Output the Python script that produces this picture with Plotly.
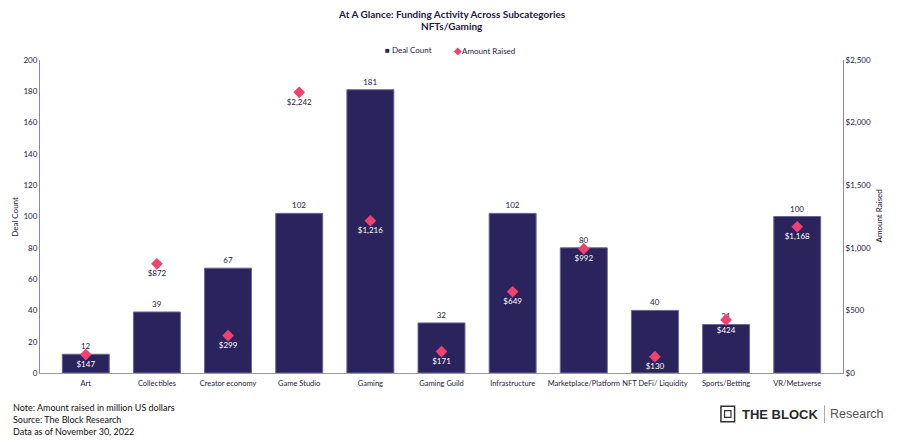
import plotly.graph_objects as go

categories = ["Art", "Collectibles", "Creator economy", "Game Studio", "Gaming",
              "Gaming Guild", "Infrastructure", "Marketplace/Platform",
              "NFT DeFi/ Liquidity", "Sports/Betting", "VR/Metaverse"]
deal_count = [12, 39, 67, 102, 181, 32, 102, 80, 40, 31, 100]
amount_raised = [147, 872, 299, 2242, 1216, 171, 649, 992, 130, 424, 1168]

left_ticks = [0, 20, 40, 60, 80, 100, 120, 140, 160, 180, 200]
right_ticks = [0, 500, 1000, 1500, 2000, 2500]
right_labels = ["$0", "$500", "$1,000", "$1,500", "$2,000", "$2,500"]

bar_color = "#2b235c"
dot_color = "#ef4270"
ink = "#1e1a3c"
font_name = "Lato"

# amount label sits under the marker: white when it lands inside the bar
amount_text = ["${:,}".format(v) for v in amount_raised]
label_colors = []
for d, a in zip(deal_count, amount_raised):
    inside = (a / 2500.0) < (d / 200.0) + 0.03
    label_colors.append("white" if inside else ink)

fig = go.Figure()
fig.add_trace(go.Bar(
    x=categories, y=deal_count, name="Deal Count", showlegend=False,
    marker=dict(color=bar_color, line=dict(color="#6d6699", width=1)),
    text=deal_count, textposition="outside", cliponaxis=False,
    textfont=dict(size=8, color=ink, family=font_name),
))
fig.add_trace(go.Scatter(
    x=categories, y=amount_raised, name="Amount Raised", yaxis="y2", showlegend=False,
    mode="markers+text", text=amount_text, textposition="bottom center",
    textfont=dict(size=8, color=label_colors, family=font_name),
    marker=dict(symbol="diamond", size=9, color=dot_color),
    cliponaxis=False,
))

# page body has an 8px margin, so the figure is drawn 8px smaller
fig.update_layout(
    width=892, height=432,
    margin=dict(l=32, r=57, t=52, b=67, autoexpand=False),
    paper_bgcolor="white", plot_bgcolor="white",
    font=dict(family=font_name, size=8, color=ink),
    bargap=0.34,
    xaxis=dict(showline=True, linecolor="#9a9a9a", linewidth=1, ticks="",
               tickangle=0, automargin=False, ticklabelstandoff=3,
               tickfont=dict(size=7.5, color=ink), showgrid=False),
    yaxis=dict(range=[0, 200], tickvals=left_ticks, showgrid=False, zeroline=False,
               showline=True, linecolor="#8a86ad", linewidth=1, automargin=False,
               tickfont=dict(size=8, color=ink)),
    yaxis2=dict(range=[0, 2500], tickvals=right_ticks, ticktext=right_labels,
                overlaying="y", side="right", showgrid=False, zeroline=False,
                showline=True, linecolor="#8a86ad", linewidth=1, automargin=False,
                tickfont=dict(size=8, color=ink)),
)

# title lines
fig.add_annotation(text="<b>At A Glance: Funding Activity Across Subcategories</b>",
                   xref="paper", yref="paper", x=0.513, y=1.147, showarrow=False,
                   xanchor="center", yanchor="middle",
                   font=dict(size=10, color=ink, family=font_name))
fig.add_annotation(text="<b>NFTs/Gaming</b>",
                   xref="paper", yref="paper", x=0.513, y=1.108, showarrow=False,
                   xanchor="center", yanchor="middle",
                   font=dict(size=10, color=ink, family=font_name))

# legend
fig.add_annotation(text="<span style='color:%s'>■</span> Deal Count" % bar_color,
                   xref="paper", yref="paper", x=0.459, y=1.032, showarrow=False,
                   xanchor="center", yanchor="middle",
                   font=dict(size=8, color=ink, family=font_name))
fig.add_annotation(text="<span style='color:%s;font-size:10px'>◆</span>Amount Raised" % dot_color,
                   xref="paper", yref="paper", x=0.553, y=1.032, showarrow=False,
                   xanchor="center", yanchor="middle",
                   font=dict(size=8, color=ink, family=font_name))

# axis titles
fig.add_annotation(text="Deal Count", xref="paper", yref="paper", x=-0.032, y=0.5,
                   textangle=-90, showarrow=False, xanchor="center", yanchor="middle",
                   font=dict(size=8, color=ink, family=font_name))
fig.add_annotation(text="Amount Raised", xref="paper", yref="paper", x=1.0436, y=0.5,
                   textangle=-90, showarrow=False, xanchor="center", yanchor="middle",
                   font=dict(size=8, color=ink, family=font_name))

notes = ["Note: Amount raised in million US dollars",
         "Source: The Block Research",
         "Data as of November 30, 2022"]
for i, line in enumerate(notes):
    fig.add_annotation(text=line, xref="paper", yref="paper", x=-0.036, y=-0.109 - i * 0.0385,
                       xanchor="left", yanchor="middle", showarrow=False,
                       font=dict(size=9, color="#111111", family=font_name))

# logo
fig.add_annotation(text="<b>THE BLOCK</b>", xref="paper", yref="paper", x=0.872, y=-0.131,
                   xanchor="left", yanchor="middle", showarrow=False,
                   font=dict(size=13, color="#2a2a2a", family="Liberation Sans"))
fig.add_annotation(text="Research", xref="paper", yref="paper", x=1.053, y=-0.131,
                   xanchor="right", yanchor="middle", showarrow=False,
                   font=dict(size=12.5, color="#555555", family="Liberation Sans"))
fig.add_shape(type="line", xref="paper", yref="paper", x0=0.977, x1=0.977, y0=-0.103, y1=-0.16,
              line=dict(color="#aaaaaa", width=1))
fig.add_shape(type="rect", xref="paper", yref="paper", x0=0.848, x1=0.865, y0=-0.106, y1=-0.156,
              line=dict(color="#333333", width=1.5))
fig.add_shape(type="rect", xref="paper", yref="paper", x0=0.8525, x1=0.8605, y0=-0.12, y1=-0.142,
              line=dict(color="#333333", width=1.2))

fig.write_html("out.html")
